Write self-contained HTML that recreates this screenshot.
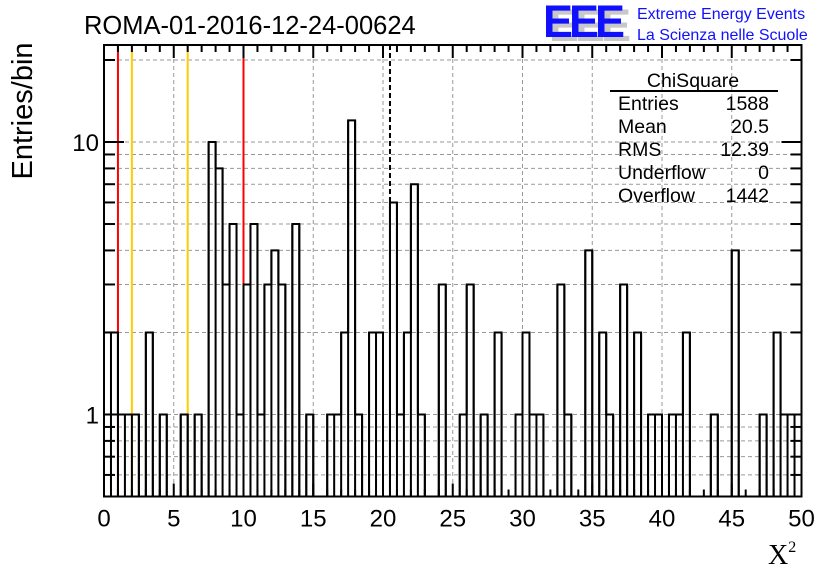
<!DOCTYPE html>
<html><head><meta charset="utf-8"><style>
html,body{margin:0;padding:0;background:#fff;}
svg{display:block;font-family:"Liberation Sans",sans-serif;}
</style></head><body>
<svg id="chart" width="836" height="572" viewBox="0 0 836 572">
<g id="grid"></g>
<g id="refs"></g>
<path id="hist" fill="none" stroke="#000" stroke-width="2"/>
<g id="axes"></g>
<text x="84" y="34" font-size="25.5">ROMA-01-2016-12-24-00624</text>
<g>
<text x="549" y="41" font-size="45" font-weight="bold" fill="#c8c8c8" letter-spacing="-4">EEE</text>
<text x="543" y="37" font-size="45" font-weight="bold" fill="#1010ff" letter-spacing="-4">EEE</text>
<text x="637" y="19" font-size="16" fill="#1010ff">Extreme Energy Events</text>
<text x="637" y="40" font-size="16" fill="#1010ff">La Scienza nelle Scuole</text>
</g>
<g font-size="19.5">
<text x="693" y="87" text-anchor="middle">ChiSquare</text>
<line x1="610" y1="91" x2="778" y2="91" stroke="#000" stroke-width="2"/>
<text x="618" y="110">Entries</text><text x="769" y="110" text-anchor="end">1588</text>
<text x="618" y="133">Mean</text><text x="769" y="133" text-anchor="end">20.5</text>
<text x="618" y="156">RMS</text><text x="769" y="156" text-anchor="end">12.39</text>
<text x="618" y="179">Underflow</text><text x="769" y="179" text-anchor="end">0</text>
<text x="618" y="202">Overflow</text><text x="769" y="202" text-anchor="end">1442</text>
</g>
<text transform="translate(32,111) rotate(-90)" font-size="29" text-anchor="middle">Entries/bin</text>
<text x="768" y="564" font-size="28" font-family="'Liberation Serif',serif">X<tspan font-size="16" dy="-12">2</tspan></text>
</svg>
<script>
const binCounts = [2,2,1,1,1,0,2,0,1,0, 0,1,0,1,0,10,8,3,5,1, 3,5,1,3,4,3,0,5,0,1, 0,0,1,1,2,12,1,0,2,2, 0,6,1,2,7,1,0,0,3,0, 0,1,3,0,1,0,2,0,0,1, 2,1,1,0,0,3,1,0,0,4, 0,2,1,0,3,0,2,0,1,1, 0,1,1,2,0,0,0,1,0,0, 4,0,0,0,1,0,2,1,1,1];
const xTicks = [0,5,10,15,20,25,30,35,40,45,50];
const yLabelTicks = [1,10];
const yGridTicks = [0.6,0.7,0.8,0.9,1,2,3,4,5,6,7,8,9,10,20];
const refLinesRed = [1,10];
const refLinesYellow = [2,6];
const meanValue = [20.5];
const X0=104,X1=801.5,Y0=45,Y1=496.5,XMIN=0,XMAX=50,YMIN=0.5,YMAX=22.7,BINW=0.5;
const NS='http://www.w3.org/2000/svg';
function xs(v){return X0+(v-XMIN)/(XMAX-XMIN)*(X1-X0);}
function ys(v){if(v<=YMIN)return Y1;const l=Math.log10;return Y1-(l(v)-l(YMIN))/(l(YMAX)-l(YMIN))*(Y1-Y0);}
function mk(tag,attrs,parent){const e=document.createElementNS(NS,tag);for(const k in attrs)e.setAttribute(k,attrs[k]);parent.appendChild(e);return e;}
const grid=document.getElementById('grid'),axes=document.getElementById('axes'),refs=document.getElementById('refs');
xTicks.forEach(t=>{if(t>XMIN&&t<XMAX){const g=mk('line',{x1:xs(t),x2:xs(t),y1:Y0,y2:Y1,stroke:'#999','stroke-dasharray':'4,3','stroke-width':1},grid);

}});
yGridTicks.forEach(t=>{const g=mk('line',{x1:X0,x2:X1,y1:ys(t),y2:ys(t),stroke:'#999','stroke-dasharray':'4,3','stroke-width':1},grid);

});
refLinesRed.forEach(v=>{const l=mk('line',{x1:xs(v),x2:xs(v),y1:Y0,y2:Y1,stroke:'#ff0000','stroke-width':2},refs);

});
refLinesYellow.forEach(v=>{const l=mk('line',{x1:xs(v),x2:xs(v),y1:Y0,y2:Y1,stroke:'#ffcc00','stroke-width':2},refs);

});
meanValue.forEach(v=>{const l=mk('line',{x1:xs(v),x2:xs(v),y1:Y0,y2:ys(6),stroke:'#000','stroke-width':2,'stroke-dasharray':'5,3'},refs);

});
let d='M'+xs(0)+','+Y1;
binCounts.forEach((c,i)=>{const y=ys(c);d+=' L'+xs(i*BINW)+','+y+' L'+xs((i+1)*BINW)+','+y;});
d+=' L'+xs(XMAX)+','+Y1;
document.getElementById('hist').setAttribute('d',d);
const hg=mk('g',{},document.getElementById('chart'));


binCounts.forEach((c,i)=>{const prev=i>0?binCounts[i-1]:0;const top=Math.min(ys(c),ys(prev));
const l=mk('line',{x1:xs(i*BINW),x2:xs(i*BINW),y1:top,y2:Y1,stroke:'#000','stroke-width':2},hg);

});
mk('rect',{x:X0,y:Y0,width:X1-X0,height:Y1-Y0,fill:'none',stroke:'#000','stroke-width':2},axes);
for(let v=XMIN;v<=XMAX;v++){const maj=v%5===0;const len=maj?13:7;
mk('line',{x1:xs(v),x2:xs(v),y1:Y1,y2:Y1-len,stroke:'#000','stroke-width':2},axes);
mk('line',{x1:xs(v),x2:xs(v),y1:Y0,y2:Y0+len,stroke:'#000','stroke-width':2},axes);}
xTicks.forEach(t=>{const tx=mk('text',{x:xs(t),y:Y1+30,'font-size':24,'text-anchor':'middle'},axes);tx.textContent=t;

});
yGridTicks.forEach(t=>{const maj=(t===1||t===10);const len=maj?20:11;
mk('line',{x1:X0,x2:X0+len,y1:ys(t),y2:ys(t),stroke:'#000','stroke-width':2},axes);
mk('line',{x1:X1,x2:X1-len,y1:ys(t),y2:ys(t),stroke:'#000','stroke-width':2},axes);});
yLabelTicks.forEach(t=>{const tx=mk('text',{x:X0-5,y:ys(t)+9,'font-size':24,'text-anchor':'end'},axes);tx.textContent=t;

});
</script>
</body></html>
